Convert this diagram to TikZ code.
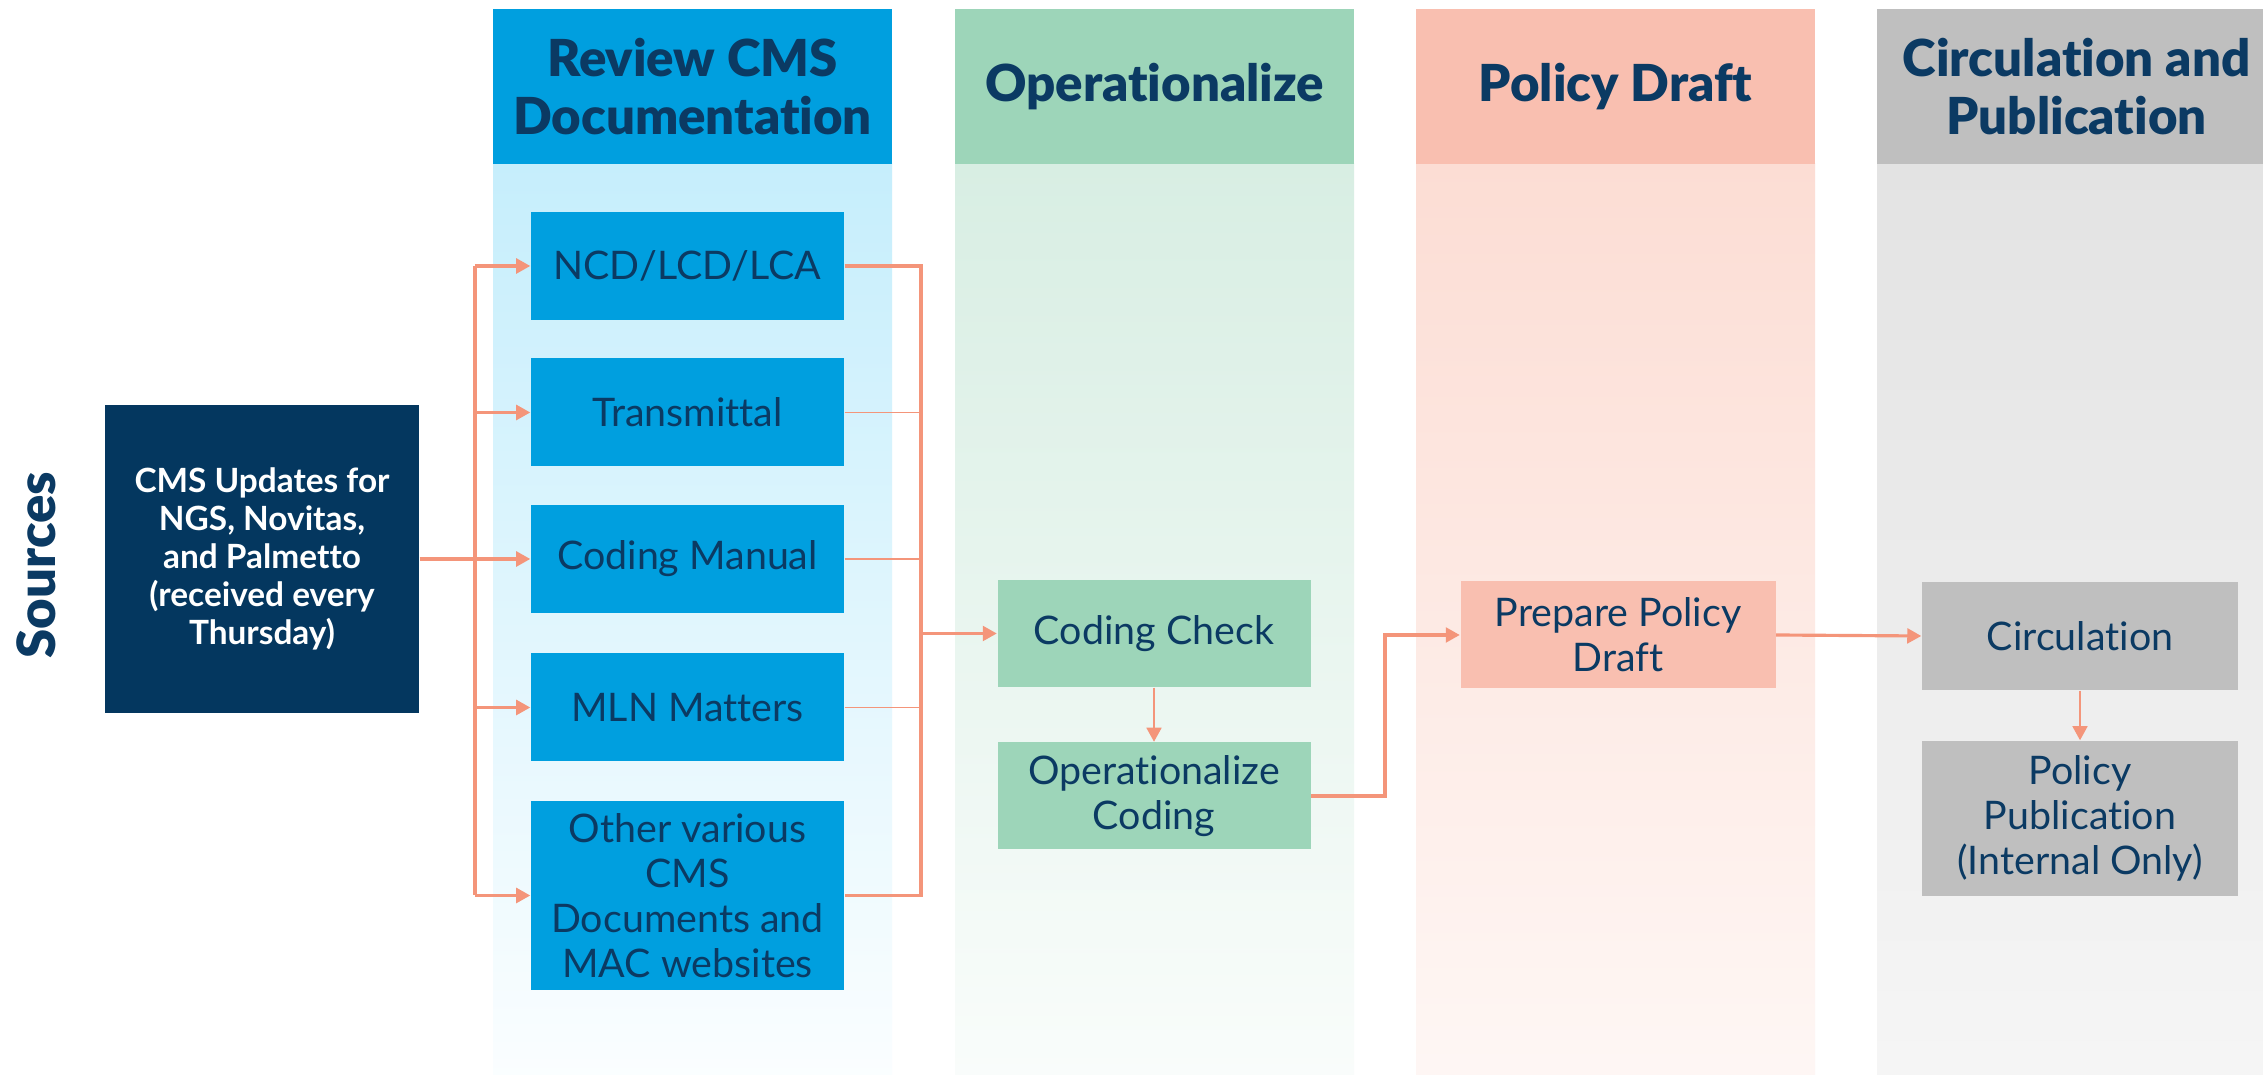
\documentclass[tikz,border=0pt]{standalone}
\usepackage{fontspec}
\setmainfont{Lato}[Ligatures=NoCommon]
\newfontfamily\heavyfont{Lato Black}[Ligatures=NoCommon]
\usepackage{xcolor}
\usepackage{tikz}
\usetikzlibrary{arrows.meta}
\definecolor{navy}{HTML}{0B3A63}
\definecolor{srcnavy}{HTML}{04375F}
\definecolor{cmsblue}{HTML}{009FDF}
\definecolor{cmsbg}{HTML}{C6EEFC}
\definecolor{mint}{HTML}{9DD5B9}
\definecolor{mintbg}{HTML}{D8EEE3}
\definecolor{salmon}{HTML}{F9BFB0}
\definecolor{salmonbg}{HTML}{FCDDD4}
\definecolor{greybox}{HTML}{BFBFBF}
\definecolor{greybg}{HTML}{E3E3E3}
\definecolor{flowline}{HTML}{F4957A}

\begin{document}
\begin{tikzpicture}[scale=1.0,
  header/.style={minimum width=3.99cm, minimum height=1.55cm, inner sep=0pt, align=center, text=navy, font=\fontsize{14.5}{16.5}\selectfont\heavyfont},
  stepbox/.style={minimum width=3.13cm, minimum height=1.08cm, inner sep=0pt, align=center, text=navy, font=\fontsize{11.2}{12.8}\selectfont},
  flow/.style={flowline, line width=0.9pt},
  thinflow/.style={flowline, line width=0.4pt},
  toarrow/.style={-{Triangle[length=4pt,width=4.2pt]}}]
  \path[use as bounding box] (0,0) rectangle (22.63,10.80);
  \clip (0,0) rectangle (22.63,10.80);
  \fill[white] (0,0) rectangle (22.63,10.80);
  \shade[top color=cmsbg, bottom color=cmsbg!8] (4.93,0.05) rectangle (8.92,9.16);
  \shade[top color=mintbg, bottom color=mintbg!15] (9.55,0.05) rectangle (13.54,9.16);
  \shade[top color=salmonbg, bottom color=salmonbg!25] (14.16,0.05) rectangle (18.15,9.16);
  \shade[top color=greybg, bottom color=greybg!35] (18.77,0.05) rectangle (22.76,9.16);
  \node[header, fill=cmsblue] (hreview) at (6.925,9.935) {Review CMS\\Documentation};
  \node[header, fill=mint] (hoper) at (11.545,9.935) {Operationalize};
  \node[header, fill=salmon] (hdraft) at (16.155,9.935) {Policy Draft};
  \node[header, fill=greybox] (hcirc) at (20.765,9.935) {Circulation and\\Publication};
  \node[rotate=90, text=navy, font=\fontsize{15}{18}\selectfont\heavyfont] (srclabel) at (0.36,5.15) {Sources};
  \node[fill=srcnavy, text=white, minimum width=3.14cm, minimum height=3.08cm, inner sep=0pt, align=center, font=\fontsize{9.5}{10.8}\selectfont\bfseries] (src) at (2.62,5.21) {CMS Updates for\\NGS, Novitas,\\and Palmetto\\(received every\\Thursday)};
  \node[stepbox, fill=cmsblue] (ncd) at (6.875,8.14) {NCD/LCD/LCA};
  \node[stepbox, fill=cmsblue] (trans) at (6.875,6.675) {Transmittal};
  \node[stepbox, fill=cmsblue] (manual) at (6.875,5.21) {Coding Manual};
  \node[stepbox, fill=cmsblue] (mln) at (6.875,3.725) {MLN Matters};
  \node[stepbox, fill=cmsblue, minimum height=1.89cm] (other) at (6.875,1.845) {Other various\\CMS\\Documents and\\MAC websites};
  \node[stepbox, fill=mint, minimum height=1.07cm] (check) at (11.54,4.465) {Coding Check};
  \node[stepbox, fill=mint, minimum height=1.07cm] (opc) at (11.54,2.84) {Operationalize\\Coding};
  \node[stepbox, fill=salmon, minimum width=3.15cm, minimum height=1.07cm] (ppd) at (16.18,4.45) {Prepare Policy\\Draft};
  \node[stepbox, fill=greybox, minimum width=3.16cm] (circ) at (20.80,4.44) {Circulation};
  \node[stepbox, fill=greybox, minimum width=3.16cm, minimum height=1.55cm] (pub) at (20.80,2.615) {Policy\\Publication\\(Internal Only)};
  \coordinate (jl) at (4.75,5.21);
  \coordinate (jr) at (9.21,5.21);
  \coordinate (jp) at (13.85,2.84);
  \draw[flow] (src.east) -- (jl);
  \draw[flow] (ncd.west -| jl) -- (other.west -| jl);
  \draw[flow, toarrow] (ncd.west -| jl) -- (ncd.west);
  \draw[flow, toarrow] (trans.west -| jl) -- (trans.west);
  \draw[flow, toarrow] (manual.west -| jl) -- (manual.west);
  \draw[flow, toarrow] (mln.west -| jl) -- (mln.west);
  \draw[flow, toarrow] (other.west -| jl) -- (other.west);
  \draw[flow] (ncd.east) -- (ncd.east -| jr) -- (other.east -| jr) -- (other.east);
  \draw[thinflow] (trans.east) -- (trans.east -| jr);
  \draw[thinflow] (manual.east) -- (manual.east -| jr);
  \draw[thinflow] (mln.east) -- (mln.east -| jr);
  \draw[flow, toarrow] (check.west -| jr) -- (check.west);
  \draw[flow, line width=0.7pt, toarrow] (check.south) -- (opc.north);
  \draw[flow, toarrow] (opc.east) -- (opc.east -| jp) |- (ppd.west);
  \draw[flow, toarrow] (ppd.east) -- (circ.west);
  \draw[flow, line width=0.65pt, toarrow] (circ.south) -- (pub.north);
\end{tikzpicture}
\end{document}
